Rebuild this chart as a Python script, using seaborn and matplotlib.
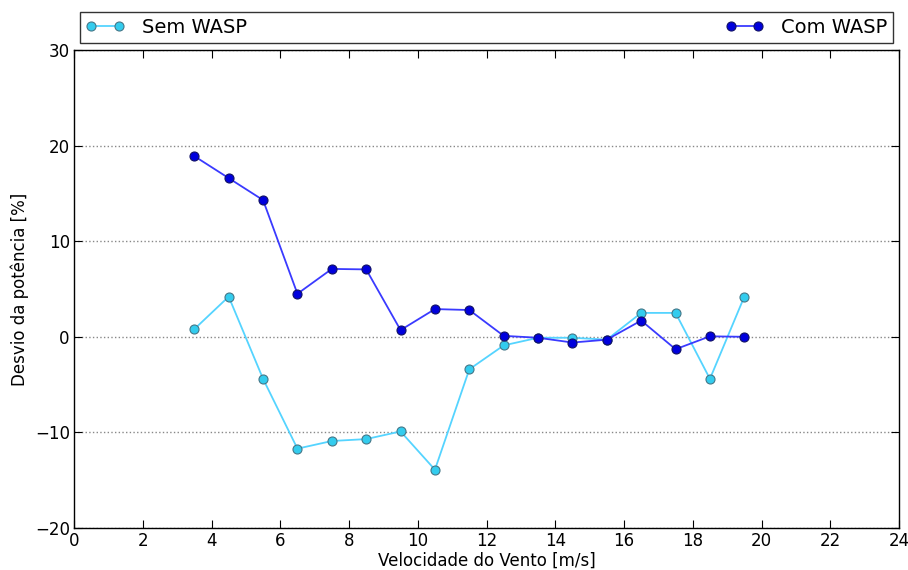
import matplotlib
matplotlib.use("Agg")
import matplotlib.pyplot as plt
import seaborn as sns
import pandas as pd

velocidade = [3.5, 4.5, 5.5, 6.5, 7.5, 8.5, 9.5, 10.5, 11.5, 12.5, 13.5, 14.5, 15.5, 16.5, 17.5, 18.5, 19.5]
sem_wasp = [0.8, 4.2, -4.4, -11.7, -10.9, -10.7, -9.9, -13.9, -3.4, -0.9, -0.1, -0.1, -0.3, 2.5, 2.5, -4.4, 4.2]
com_wasp = [18.9, 16.6, 14.3, 4.5, 7.1, 7.05, 0.7, 2.9, 2.8, 0.1, -0.1, -0.6, -0.3, 1.7, -1.3, 0.05, 0.0]

df = pd.DataFrame({
    "Velocidade": velocidade * 2,
    "Desvio": sem_wasp + com_wasp,
    "Serie": ["Sem WASP"] * len(velocidade) + ["Com WASP"] * len(velocidade),
})

sns.set_style("white")
plt.rcParams["font.family"] = ["DejaVu Sans"]
plt.rcParams["text.color"] = "black"
plt.rcParams["axes.labelcolor"] = "black"

fig = plt.figure(figsize=(9.08, 5.70), dpi=100)
ax = fig.add_axes([74 / 908, 1 - 528 / 570, (899 - 74) / 908, (528 - 50) / 570])

estilos = {
    "Sem WASP": dict(line="#55d4ff", face="#33ccee", edge="#447788"),
    "Com WASP": dict(line="#3a3aff", face="#0000dd", edge="#111166"),
}
for nome, st in estilos.items():
    sub = df[df["Serie"] == nome]
    sns.lineplot(data=sub, x="Velocidade", y="Desvio", ax=ax, color=st["line"],
                 marker="o", markersize=6.5, markerfacecolor=st["face"],
                 markeredgecolor=st["edge"], markeredgewidth=0.8,
                 linewidth=1.3, label=nome, zorder=3)

ax.set_xlim(0, 24)
ax.set_ylim(-20, 30)
ax.set_xticks(range(0, 25, 2))
ax.set_yticks(range(-20, 31, 10))
ax.yaxis.grid(True, linestyle=":", color="#888888", linewidth=1)
ax.xaxis.grid(False)
for s in ax.spines.values():
    s.set_color("black")
    s.set_linewidth(1.0)
ax.tick_params(direction="in", length=6, width=0.8, top=True, right=True,
               bottom=True, left=True, labelsize=12, colors="black", pad=3)
ax.set_xlabel("Velocidade do Vento [m/s]", fontsize=12)
ax.xaxis.set_label_coords(0.5, -0.05)
ax.set_ylabel("Desvio da potência [%]", fontsize=12, labelpad=4)

ax.legend(loc="lower left", bbox_to_anchor=(0.007, 1.015, 0.986, 0.06), mode="expand",
          ncol=2, borderaxespad=0, frameon=True, fancybox=False, edgecolor="black",
          fontsize=14, handlelength=2.0, numpoints=2, markerfirst=True,
          borderpad=0.3, handletextpad=0.9)
leg = ax.get_legend()
leg.get_frame().set_linewidth(1.0)

fig.savefig("out.png", dpi=100)
